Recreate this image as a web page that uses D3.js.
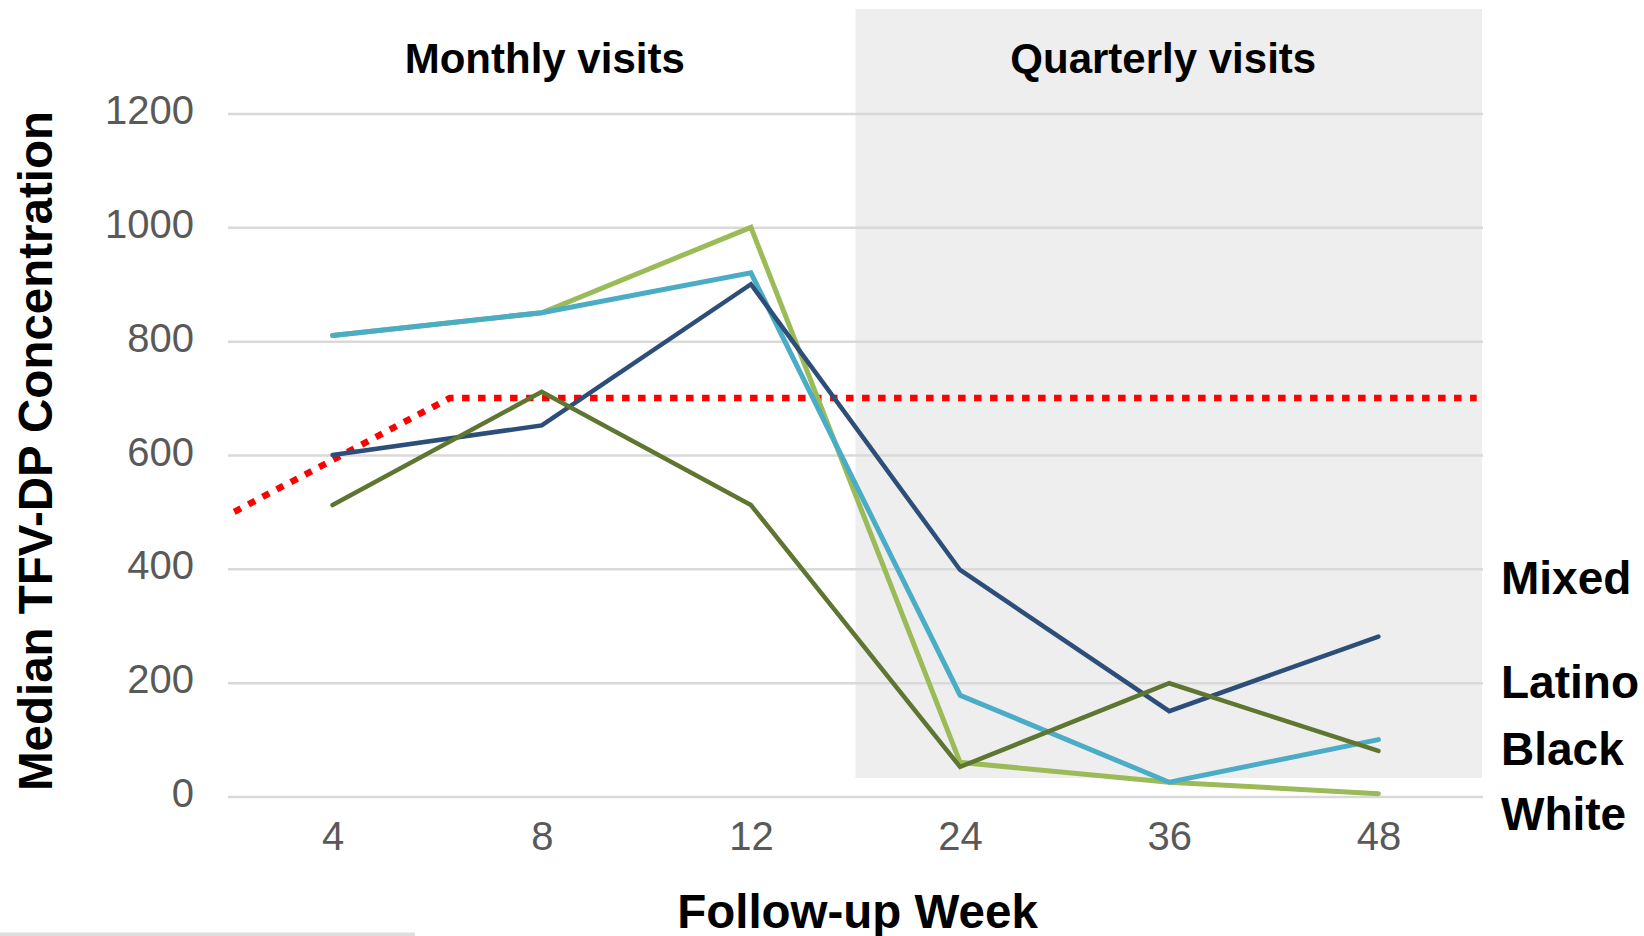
<!DOCTYPE html>
<html>
<head>
<meta charset="utf-8">
<script src="https://cdn.jsdelivr.net/npm/d3@7"></script>
<style>
  html, body { margin: 0; padding: 0; background: #ffffff; }
  svg { display: block; }
  text { font-family: "Liberation Sans", Arial, Helvetica, sans-serif; }
</style>
</head>
<body>
<svg id="chart" width="1644" height="936"></svg>
<script>
// Follow-up weeks (categorical x axis)
const weeks = ["4", "8", "12", "24", "36", "48"];

// Median TFV-DP concentration per group at each follow-up week
const white  = [810, 850, 1000, 60, 25, 5];
const latino = [810, 850, 920, 178, 25, 100];
const mixed  = [600, 652, 900, 398, 150, 281];
const black  = [512, 711, 512, 52, 199, 80];

const groupNames = ["White", "Latino", "Mixed", "Black"];

// Benchmark line: position in week slots and concentration
const benchmarkSlot  = [-0.47, 0.56, 5.47];
const benchmarkValue = [500, 700, 700];

const yTicks = [0, 200, 400, 600, 800, 1000, 1200];
const periodLabels = ["Monthly visits", "Quarterly visits"];

// ---- layout ----
const W = 1644, H = 936;
const plot = { left: 228, right: 1483, top: 113.5, bottom: 796.5 };

const svg = d3.select("#chart");

const x = d3.scalePoint().domain(weeks).range([plot.left, plot.right]).padding(0.5);
const slot = d3.scaleLinear().domain([0, weeks.length - 1]).range([x(weeks[0]), x(weeks[weeks.length - 1])]);
const y = d3.scaleLinear().domain([0, 1200]).range([plot.bottom, plot.top]);

// Quarterly-visit panel shading
const panelLeft = x("12") + x.step() / 2;
svg.append("rect")
  .attr("x", panelLeft).attr("y", 9)
  .attr("width", 1482 - panelLeft).attr("height", 778 - 9)
  .attr("fill", "#eeeeee");

// Gridlines via a left axis with full-width ticks
const yAxis = d3.axisLeft(y).tickValues(yTicks).tickSize(-(plot.right - plot.left)).tickFormat(d3.format("d"));
const gy = svg.append("g").attr("transform", `translate(${plot.left},0)`).call(yAxis);
gy.select(".domain").remove();
gy.selectAll(".tick line").attr("stroke", "#d9d9d9").attr("stroke-width", 2.5);
gy.selectAll(".tick text")
  .attr("x", -34).attr("dy", 10).attr("dominant-baseline", "auto")
  .attr("fill", "#595959").style("font-size", "40px").attr("text-anchor", "end");

// X axis labels
const xAxis = d3.axisBottom(x).tickSize(0);
const gx = svg.append("g").attr("transform", `translate(0,${plot.bottom})`).call(xAxis);
gx.select(".domain").remove();
gx.selectAll(".tick text")
  .attr("y", 53).attr("dy", 0)
  .attr("fill", "#595959").style("font-size", "40px");

// Benchmark dotted line
const benchmark = benchmarkSlot.map((s, i) => [slot(s), y(benchmarkValue[i])]);
svg.append("path")
  .attr("d", d3.line()(benchmark))
  .attr("fill", "none")
  .attr("stroke", "#ff0000")
  .attr("stroke-width", 6.5)
  .attr("stroke-dasharray", "7.5,8.5");

// Group lines (drawn bottom to top)
const series = [
  { name: "White",  values: white,  color: "#9bbb59", width: 5 },
  { name: "Latino", values: latino, color: "#4bacc6", width: 5 },
  { name: "Mixed",  values: mixed,  color: "#2c4e78", width: 4.5 },
  { name: "Black",  values: black,  color: "#5e7631", width: 4.5 }
];
const line = d3.line().x((d, i) => x(weeks[i])).y(d => y(d));
svg.append("g").selectAll("path")
  .data(series)
  .join("path")
  .attr("d", d => line(d.values))
  .attr("fill", "none")
  .attr("stroke", d => d.color)
  .attr("stroke-width", d => d.width)
  .attr("stroke-linecap", "round");

// Group labels at the right edge
const labelBaseline = { Mixed: 594, Latino: 698, Black: 765, White: 830 };
svg.append("g").selectAll("text")
  .data(groupNames)
  .join("text")
  .attr("x", 1501)
  .attr("y", d => labelBaseline[d])
  .attr("fill", "#000")
  .style("font-size", "46px")
  .style("font-weight", "bold")
  .text(d => d);

// Period headings
svg.append("text")
  .attr("x", x("8") + 3).attr("y", 73)
  .attr("text-anchor", "middle")
  .style("font-size", "42px").style("font-weight", "bold")
  .text(periodLabels[0]);
svg.append("text")
  .attr("x", x("36") - 6).attr("y", 73)
  .attr("text-anchor", "middle")
  .style("font-size", "42px").style("font-weight", "bold")
  .text(periodLabels[1]);

// Axis titles
svg.append("text")
  .attr("transform", "translate(52,451) rotate(-90)")
  .attr("text-anchor", "middle")
  .style("font-size", "47.5px").style("font-weight", "bold")
  .text("Median TFV-DP Concentration");
svg.append("text")
  .attr("x", (plot.left + plot.right) / 2 + 2).attr("y", 928)
  .attr("text-anchor", "middle")
  .style("font-size", "47.5px").style("font-weight", "bold")
  .text("Follow-up Week");

// Thin rule at the lower-left edge
svg.append("rect")
  .attr("x", 0).attr("y", 932.5)
  .attr("width", 415).attr("height", 4)
  .attr("fill", "#dedede");
</script>
</body>
</html>
